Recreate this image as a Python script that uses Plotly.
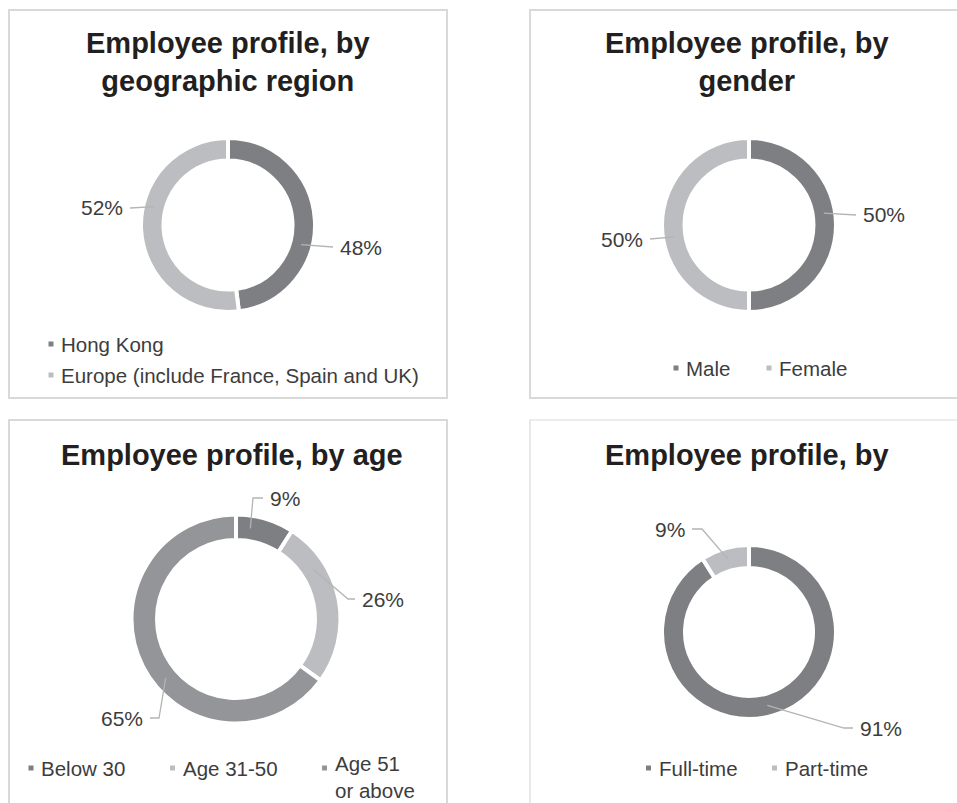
import math
import textwrap
import plotly.graph_objects as go

W, H = 957, 803

# ---------------- data ----------------
region_labels = ["Hong Kong", "Europe (include France, Spain and UK)"]
region_values = [48, 52]

gender_labels = ["Male", "Female"]
gender_values = [50, 50]

age_labels = ["Below 30", "Age 31-50", "Age 51 or above"]
age_values = [9, 26, 65]

type_labels = ["Full-time", "Part-time"]
type_values = [91, 9]

titles = [
    "Employee profile, by<br>geographic region",
    "Employee profile, by<br>gender",
    "Employee profile, by age",
    "Employee profile, by",
]

# ---------------- styles ----------------
DARK = "#7e7f83"
LIGHT = "#bcbdc1"
MID = "#939598"
TITLE_COLOR = "#231f20"
TEXT_COLOR = "#3d3d3d"
LEADER_COLOR = "#b4b4b4"
BORDER_COLOR = "#d9d9d9"
FONT = "Liberation Sans, Arial, sans-serif"
GAP = 4  # white gap between slices

charts = [
    dict(labels=region_labels, values=region_values, colors=[DARK, LIGHT],
         center=(228, 225), r_out=85, r_in=66.5,
         title=titles[0], title_xy=(228, 62),
         border=(9, 10, 447, 398), border_w=2,
         text=[dict(dx=110, dy=22, ang=105, hseg=0),
               dict(dx=-103, dy=-17, ang=284, hseg=0)],
         legend=[(51, 344), (51, 375)], wrap=None),
    dict(labels=gender_labels, values=gender_values, colors=[DARK, LIGHT],
         center=(749, 225), r_out=85, r_in=66.5,
         title=titles[1], title_xy=(747, 62),
         border=(530, 10, 970, 398), border_w=2,
         text=[dict(dx=112, dy=-10, ang=81, hseg=0),
               dict(dx=-104, dy=14, ang=261, hseg=0)],
         legend=[(676, 368), (769, 368)], wrap=None),
    dict(labels=age_labels, values=age_values, colors=[DARK, LIGHT, MID],
         center=(236, 619), r_out=102.5, r_in=81,
         title=titles[2], title_xy=(232, 455),
         border=(9, 420, 447, 820), border_w=2,
         text=[dict(dx=32, dy=-121, ang=9, hseg=10),
               dict(dx=124, dy=-20, ang=57, hseg=7),
               dict(dx=-91, dy=99, ang=230, hseg=9)],
         legend=[(31, 768), (172.5, 768), (324.5, 768)], wrap=8),
    dict(labels=type_labels, values=type_values, colors=[DARK, LIGHT],
         center=(749, 632), r_out=85, r_in=66,
         title=titles[3], title_xy=(747, 455),
         border=(530, 420, 970, 820), border_w=1.2,
         text=[dict(dx=109, dy=96, ang=166, hseg=9),
               dict(dx=-62, dy=-103, ang=344, hseg=10)],
         legend=[(648.5, 768), (774.5, 768)], wrap=None),
]


def px(x):
    return x / W


def py(y):
    return 1 - y / H


fig = go.Figure()
shapes = []
annotations = []

for c in charts:
    cx, cy = c["center"]
    rd = c["r_out"] + GAP / 2
    hole = (c["r_in"] - GAP / 2) / rd

    # panel border
    bx0, by0, bx1, by1 = c["border"]
    shapes.append(dict(type="rect", xref="paper", yref="paper",
                       x0=px(bx0), x1=px(bx1), y0=py(by1), y1=py(by0),
                       line=dict(color=BORDER_COLOR, width=c["border_w"]),
                       fillcolor="rgba(0,0,0,0)", layer="below"))

    fig.add_trace(go.Pie(
        labels=c["labels"], values=c["values"],
        hole=hole, sort=False, direction="clockwise", rotation=0,
        marker=dict(colors=c["colors"], line=dict(color="white", width=GAP)),
        textinfo="none", hoverinfo="label+percent", showlegend=False,
        domain=dict(x=[px(cx - rd), px(cx + rd)], y=[py(cy + rd), py(cy - rd)]),
    ))

    # title
    tx, ty = c["title_xy"]
    annotations.append(dict(text="<b>" + c["title"] + "</b>", x=px(tx), y=py(ty),
                            xref="paper", yref="paper", xanchor="center", yanchor="middle",
                            showarrow=False, align="center",
                            font=dict(family=FONT, size=29, color=TITLE_COLOR)))

    # data labels with leader lines
    r_mid = (c["r_out"] + c["r_in"]) / 2
    total = sum(c["values"])
    for val, t in zip(c["values"], c["text"]):
        side = 1 if t["dx"] > 0 else -1
        ex, ey = cx + t["dx"], cy + t["dy"]
        a = math.radians(t["ang"])
        ax, ay = cx + r_mid * math.sin(a), cy - r_mid * math.cos(a)
        fx = ex - side * 5
        kx = fx - side * t["hseg"]
        path = f"M {px(ax)} {py(ay)} L {px(kx)} {py(ey)} L {px(fx)} {py(ey)}"
        shapes.append(dict(type="path", xref="paper", yref="paper", path=path,
                           line=dict(color=LEADER_COLOR, width=1.3), layer="above"))
        pct = round(100 * val / total)
        annotations.append(dict(text=f"{pct}%", x=px(ex), y=py(ey),
                                xref="paper", yref="paper",
                                xanchor="left" if side > 0 else "right", yanchor="middle",
                                showarrow=False,
                                font=dict(family=FONT, size=21, color=TEXT_COLOR)))

    # legend
    for lab, col, (lx, ly) in zip(c["labels"], c["colors"], c["legend"]):
        shapes.append(dict(type="rect", xref="paper", yref="paper",
                           x0=px(lx - 2.5), x1=px(lx + 2.5), y0=py(ly + 2.5), y1=py(ly - 2.5),
                           line=dict(width=0), fillcolor=col))
        txt = lab
        top = ly - 13
        if c["wrap"] and len(lab) > 10:
            txt = "<br>".join(textwrap.wrap(lab, c["wrap"]))
            top -= 5
        annotations.append(dict(text=txt, x=px(lx + 8), y=py(top),
                                xref="paper", yref="paper", xanchor="left", yanchor="top",
                                showarrow=False, align="left",
                                font=dict(family=FONT, size=20.5, color=TEXT_COLOR)))

fig.update_layout(
    width=W, height=H,
    margin=dict(l=0, r=0, t=0, b=0),
    paper_bgcolor="white", plot_bgcolor="white",
    shapes=shapes, annotations=annotations,
    showlegend=False,
)

fig.write_html("out.html", config={"displayModeBar": False},
               post_script="document.body.style.margin='0';document.body.style.overflow='hidden';")
